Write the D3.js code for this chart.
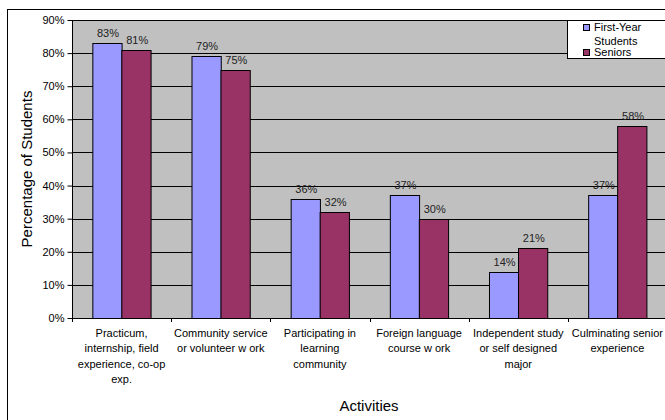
<!DOCTYPE html>
<html>
<head>
<meta charset="utf-8">
<script src="https://cdn.jsdelivr.net/npm/d3@7"></script>
<style>
  body { margin: 0; background: #fff; }
  svg { display: block; font-family: "Liberation Sans", Arial, sans-serif; }
</style>
</head>
<body>
<svg id="chart" width="665" height="420"></svg>
<script>
// Data
const categories = [
  ["Practicum,", "internship, field", "experience, co-op", "exp."],
  ["Community service", "or volunteer w ork"],
  ["Participating in", "learning", "community"],
  ["Foreign language", "course w ork"],
  ["Independent study", "or self designed", "major"],
  ["Culminating senior", "experience"]
];
const firstYear = [83, 79, 36, 37, 14, 37];
const seniors = [81, 75, 32, 30, 21, 58];
const seriesNames = ["First-Year Students", "Seniors"];
const yTicks = [0, 10, 20, 30, 40, 50, 60, 70, 80, 90];

const
  COLORS = ["#9999FF", "#993366"],
  PLOT = {left: 72, right: 667, top: 20, bottom: 318}
;

const svg = d3.select("#chart");

// outer frame
svg.append("rect")
  .attr("x", 7.5).attr("y", 9.5)
  .attr("width", 700).attr("height", 450)
  .attr("fill", "#fff").attr("stroke", "#000");

const x = d3.scaleBand()
  .domain(d3.range(categories.length))
  .range([PLOT.left, PLOT.right])
  .paddingInner(0.41).paddingOuter(0.205);
const xCat = d3.scaleBand()
  .domain(d3.range(categories.length))
  .range([PLOT.left, PLOT.right]);
const y = d3.scaleLinear().domain([0, 90]).range([PLOT.bottom, PLOT.top]);

// plot area
svg.append("rect")
  .attr("x", PLOT.left).attr("y", PLOT.top)
  .attr("width", PLOT.right - PLOT.left).attr("height", PLOT.bottom - PLOT.top)
  .attr("fill", "#C0C0C0");

// gridlines
svg.append("g")
  .selectAll("line")
  .data(yTicks.filter(d => d > 0)).enter()
  .append("line")
    .attr("x1", PLOT.left).attr("x2", PLOT.right)
    .attr("y1", d => Math.round(y(d)) + 0.5).attr("y2", d => Math.round(y(d)) + 0.5)
    .attr("stroke", "#000");

// bars
const data = categories.map((c, i) => [firstYear[i], seniors[i]]);
const barW = x.bandwidth() / 2;
const groups = svg.append("g")
  .selectAll("g")
  .data(data).enter()
  .append("g")
    .attr("transform", (d, i) => `translate(${x(i)},0)`);

groups.selectAll("rect")
  .data(d => d).enter()
  .append("rect")
    .attr("x", (d, j) => Math.round(j * barW) + 0.5)
    .attr("y", d => Math.round(y(d)) + 0.5)
    .attr("width", barW)
    .attr("height", d => PLOT.bottom - Math.round(y(d)))
    .attr("fill", (d, j) => COLORS[j])
    .attr("stroke", "#000");

groups.selectAll("text")
  .data(d => d).enter()
  .append("text")
    .attr("x", (d, j) => j * barW + barW / 2 + 1)
    .attr("y", d => y(d) - 6)
    .attr("text-anchor", "middle")
    .style("font-size", "11px")
    .attr("fill", "#222")
    .text(d => d + "%");

// y axis
const yAxis = svg.append("g")
  .attr("transform", `translate(${PLOT.left + 0.5},0)`)
  .call(d3.axisLeft(y).tickValues(yTicks).tickFormat(d => d + "%").tickSize(5).tickPadding(3));
yAxis.select(".domain").attr("stroke", "#000").attr("d", `M0,${PLOT.top}V${PLOT.bottom}`);
yAxis.selectAll("text").style("font-size", "11px").attr("font-family", null).attr("fill", "#000");

// x axis
svg.append("line")
  .attr("x1", PLOT.left).attr("x2", PLOT.right)
  .attr("y1", PLOT.bottom + 0.5).attr("y2", PLOT.bottom + 0.5)
  .attr("stroke", "#000");
svg.append("g")
  .selectAll("line")
  .data(d3.range(categories.length + 1)).enter()
  .append("line")
    .attr("x1", i => Math.round(PLOT.left + i * xCat.step()) + 0.5)
    .attr("x2", i => Math.round(PLOT.left + i * xCat.step()) + 0.5)
    .attr("y1", PLOT.bottom).attr("y2", PLOT.bottom + 4)
    .attr("stroke", "#000");

svg.append("g")
  .selectAll("text")
  .data(categories).enter()
  .append("text")
    .attr("text-anchor", "middle")
    .style("font-size", "11px")
    .attr("fill", "#000")
    .each(function(lines, i) {
      d3.select(this).selectAll("tspan")
        .data(lines).enter()
        .append("tspan")
          .attr("x", xCat(i) + xCat.bandwidth() / 2)
          .attr("y", (l, k) => 337 + k * 15.3)
          .text(l => l);
    });

// axis titles
svg.append("text")
  .attr("transform", `translate(32,${(PLOT.top + PLOT.bottom) / 2}) rotate(-90)`)
  .attr("text-anchor", "middle")
  .style("font-size", "15px")
  .text("Percentage of Students");
svg.append("text")
  .attr("x", 369).attr("y", 411)
  .attr("text-anchor", "middle")
  .style("font-size", "15px")
  .text("Activities");

// legend
const legend = svg.append("g");
legend.append("rect")
  .attr("x", 567.5).attr("y", 20.5)
  .attr("width", 120).attr("height", 38)
  .attr("fill", "#fff").attr("stroke", "#000");
legend.append("clipPath").attr("id", "legclip")
  .append("rect").attr("x", 567).attr("y", 20).attr("width", 120).attr("height", 38);
const items = legend.append("g").attr("clip-path", "url(#legclip)");
const legendLines = [["First-Year", "Students"], ["Seniors"]];
const legendY = [31, 56];
seriesNames.forEach((name, j) => {
  items.append("rect")
    .attr("x", 583.5).attr("y", legendY[j] - 6.5)
    .attr("width", 6).attr("height", 6)
    .attr("fill", COLORS[j]).attr("stroke", "#000");
  items.append("text")
    .style("font-size", "11px")
    .selectAll("tspan")
    .data(legendLines[j]).enter()
    .append("tspan")
      .attr("x", 594)
      .attr("y", (l, k) => legendY[j] + k * 14)
      .text(l => l);
});
</script>
</body>
</html>
